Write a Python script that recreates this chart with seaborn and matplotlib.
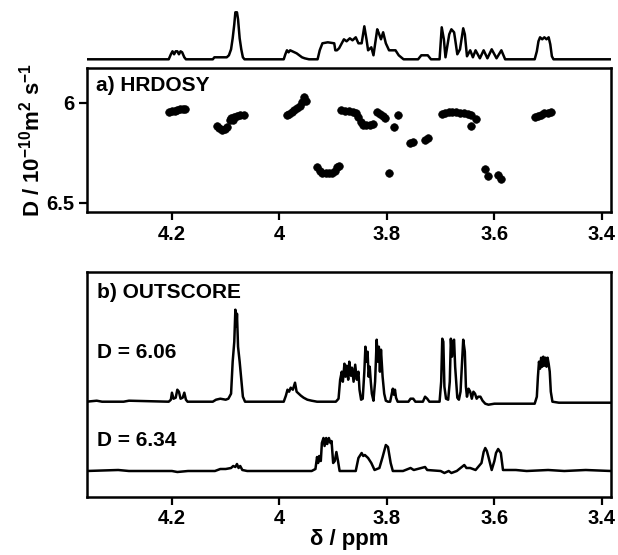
import numpy as np
import pandas as pd
import matplotlib
matplotlib.use("Agg")
import matplotlib.pyplot as plt
import seaborn as sns

# ---- data ----
# 1D projection on top of the DOSY (ppm, intensity)
proj_ppm = [4.359, 4.330, 4.206, 4.202, 4.199, 4.196, 4.193, 4.190, 4.187, 4.184, 4.181, 4.177, 4.174,
            4.124, 4.121, 4.098, 4.094, 4.090, 4.087, 4.084, 4.082, 4.079, 4.077, 4.074, 4.071, 4.068, 4.065,
            3.992, 3.989, 3.986, 3.983, 3.980, 3.976, 3.972, 3.968, 3.963, 3.958, 3.953, 3.945, 3.929,
            3.925, 3.920, 3.910, 3.898, 3.896, 3.893, 3.889, 3.880, 3.875, 3.869, 3.864, 3.858, 3.853,
            3.847, 3.842, 3.838, 3.835, 3.829, 3.825, 3.818, 3.815, 3.811, 3.807, 3.802, 3.796, 3.784,
            3.778, 3.769, 3.742, 3.736, 3.724, 3.718, 3.702, 3.698, 3.694, 3.691, 3.684, 3.680, 3.675,
            3.673, 3.669, 3.664, 3.658, 3.655, 3.651, 3.645, 3.640, 3.635, 3.627, 3.620, 3.613, 3.605,
            3.596, 3.587, 3.580, 3.525, 3.521, 3.518, 3.515, 3.511, 3.507, 3.503, 3.499, 3.496, 3.493,
            3.490, 3.383]
proj_int = [0, 0, 0, 5, 8, 5, 8, 8, 5, 8, 7, 2, 0,
            0, 2, 2, 4, 10, 21, 35, 47, 47, 40, 21, 10, 2, 0,
            0, 5, 9, 7, 9, 8, 7, 6, 4, 2, 1, 0, 0,
            9, 16, 17, 16, 9, 9, 11, 20, 18, 21, 19, 22, 16,
            16, 33, 20, 9, 12, 4, 30, 26, 20, 27, 16, 9, 9,
            4, 0, 0, 4, 4, 0, 0, 32, 20, 2, 25, 30, 27,
            20, 5, 10, 31, 25, 3, 9, 2, 9, 1, 9, 1, 10,
            1, 9, 0, 0, 8, 18, 22, 20, 22, 20, 22, 15, 3,
            0, 0]

# HRDOSY peaks (ppm, D / 1e-10 m2 s-1)
dosy_ppm = [4.205, 4.200, 4.195, 4.190, 4.185, 4.180, 4.175,
            4.117, 4.112, 4.107, 4.102, 4.098,
            4.092, 4.086, 4.091, 4.085, 4.079, 4.073, 4.066,
            3.986, 3.982, 3.977, 3.972, 3.967, 3.962, 3.958, 3.955, 3.950,
            3.885, 3.878, 3.871, 3.864, 3.858, 3.853, 3.849, 3.844, 3.838, 3.831, 3.825,
            3.818, 3.813, 3.808, 3.803,
            3.780, 3.787,
            3.757, 3.752, 3.729, 3.724,
            3.698, 3.692, 3.685, 3.678, 3.671, 3.664, 3.657, 3.650, 3.644,
            3.634, 3.643,
            3.525, 3.519, 3.513, 3.507, 3.500, 3.495,
            3.930, 3.925, 3.920, 3.914, 3.908, 3.902, 3.897, 3.892, 3.890,
            3.796,
            3.617, 3.612, 3.594, 3.588]
dosy_D = [6.045, 6.042, 6.038, 6.035, 6.032, 6.030, 6.028,
          6.115, 6.125, 6.133, 6.128, 6.118,
          6.085, 6.085, 6.075, 6.068, 6.065, 6.062, 6.058,
          6.060, 6.055, 6.045, 6.035, 6.025, 6.015, 5.995, 5.972, 5.990,
          6.036, 6.040, 6.042, 6.045, 6.052, 6.072, 6.095, 6.110, 6.112, 6.110, 6.103,
          6.045, 6.055, 6.065, 6.075,
          6.062, 6.122,
          6.198, 6.193, 6.185, 6.177,
          6.057, 6.052, 6.047, 6.043, 6.043, 6.048, 6.052, 6.056, 6.062,
          6.082, 6.113,
          6.068, 6.064, 6.058, 6.052, 6.048, 6.047,
          6.318, 6.338, 6.348, 6.352, 6.352, 6.348, 6.340, 6.320, 6.315,
          6.352,
          6.330, 6.365, 6.360, 6.378]

# OUTSCORE component D = 6.06
d606_ppm = [4.359, 4.340, 4.330, 4.290, 4.280, 4.206, 4.202, 4.200, 4.197, 4.193, 4.190, 4.187, 4.184,
            4.180, 4.177, 4.174, 4.171, 4.124, 4.118, 4.110, 4.100, 4.095, 4.090, 4.087, 4.084,
            4.082, 4.080, 4.079, 4.077, 4.074, 4.071, 4.068, 4.064, 3.992, 3.988, 3.985, 3.982,
            3.979, 3.975, 3.971, 3.968, 3.964, 3.960, 3.955, 3.948, 3.940, 3.930, 3.895, 3.890,
            3.887, 3.884, 3.882, 3.879, 3.877, 3.875, 3.872, 3.870, 3.867, 3.865, 3.862, 3.859,
            3.856, 3.853, 3.851, 3.848, 3.845, 3.842, 3.840, 3.838, 3.836, 3.834, 3.832, 3.830,
            3.828, 3.825, 3.822, 3.819, 3.817, 3.815, 3.813, 3.811, 3.808, 3.805, 3.802, 3.798,
            3.794, 3.791, 3.789, 3.787, 3.785, 3.783, 3.780, 3.760, 3.756, 3.751, 3.747, 3.733,
            3.729, 3.725, 3.721, 3.702, 3.699, 3.697, 3.695, 3.693, 3.690, 3.686, 3.683, 3.681,
            3.679, 3.677, 3.675, 3.673, 3.671, 3.669, 3.666, 3.663, 3.658, 3.655, 3.653, 3.651,
            3.648, 3.645, 3.642, 3.639, 3.636, 3.633, 3.630, 3.626, 3.622, 3.617, 3.611, 3.600,
            3.580, 3.560, 3.530, 3.525, 3.521, 3.519, 3.517, 3.515, 3.513, 3.511, 3.509, 3.507,
            3.505, 3.503, 3.501, 3.499, 3.497, 3.495, 3.492, 3.480, 3.450, 3.420, 3.383]
d606_int = [0, 1, 0, 0, 1, 0, 2, 9, 3, 4, 12, 10, 3,
            4, 9, 2, 0, 0, 2, 3, 2, 3, 8, 40, 60,
            92, 75, 88, 55, 40, 22, 5, 0, 0, 6, 12, 10,
            14, 12, 19, 10, 8, 6, 4, 2, 1, 0, 0, 3,
            22, 30, 20, 38, 25, 36, 22, 40, 26, 34, 20, 37,
            22, 30, 12, 2, 3, 30, 55, 40, 50, 25, 35, 20,
            8, 1, 20, 62, 40, 55, 30, 52, 25, 8, 1, 0,
            0, 8, 13, 7, 12, 4, 0, 0, 3, 3, 0, 0,
            5, 3, 0, 0, 20, 63, 60, 15, 3, 2, 20, 63,
            45, 60, 62, 35, 20, 4, 2, 10, 62, 50, 15, 5,
            13, 10, 3, 10, 8, 3, 5, 5, 1, -2, -3, -2,
            -2, -2, -2, -2, 5, 25, 40, 33, 44, 35, 45, 36,
            44, 35, 44, 38, 30, 10, 0, -1, -1, -1, -1]

# OUTSCORE component D = 6.34
d634_ppm = [4.359, 4.300, 4.280, 4.200, 4.190, 4.170, 4.120, 4.110, 4.100, 4.090, 4.086, 4.082,
            4.079, 4.076, 4.073, 4.069, 4.060, 3.940, 3.933, 3.930, 3.928, 3.926, 3.923, 3.921,
            3.918, 3.916, 3.913, 3.911, 3.908, 3.905, 3.903, 3.900, 3.897, 3.894, 3.891, 3.888,
            3.858, 3.853, 3.847, 3.844, 3.841, 3.835, 3.829, 3.823, 3.814, 3.808, 3.802, 3.798,
            3.793, 3.789, 3.770, 3.756, 3.750, 3.729, 3.725, 3.700, 3.693, 3.685, 3.680, 3.670,
            3.656, 3.652, 3.645, 3.635, 3.624, 3.620, 3.617, 3.614, 3.611, 3.605, 3.600, 3.597,
            3.593, 3.588, 3.584, 3.560, 3.540, 3.500, 3.470, 3.430, 3.383]
d634_int = [0, 1, 0, 0, -1, 0, 0, 2, 2, 3, 5, 4,
            7, 3, 5, 1, 0, 0, 2, 14, 8, 15, 10, 28,
            33, 25, 33, 27, 33, 28, 30, 8, 10, 19, 10, 0,
            0, 13, 18, 15, 16, 13, 8, 1, 3, 14, 26, 24,
            8, 0, 0, 3, 1, 4, 1, 0, -2, 0, -2, 0,
            6, 3, 3, 1, 8, 19, 23, 20, 14, 1, 10, 18,
            22, 18, 1, 1, 0, 1, 0, 1, 0]

x_ticks = [4.2, 4.0, 3.8, 3.6, 3.4]
x_ticklabels = ["4.2", "4", "3.8", "3.6", "3.4"]
y_ticks = [6.0, 6.5]
y_ticklabels = ["6", "6.5"]

# ---- style ----
sns.set_theme(style="ticks")
plt.rcParams['font.family'] = ['Liberation Sans', 'DejaVu Sans']
plt.rcParams['font.weight'] = 'bold'
plt.rcParams['text.color'] = 'black'
plt.rcParams['axes.labelcolor'] = 'black'
plt.rcParams['mathtext.fontset'] = 'custom'
plt.rcParams['mathtext.rm'] = 'Liberation Sans:bold'
plt.rcParams['mathtext.bf'] = 'Liberation Sans:bold'
plt.rcParams['mathtext.default'] = 'bf'

FS = 15
TFS = 14.5
XLIM = (4.359, 3.383)
LW = 1.8

fig = plt.figure(figsize=(6.18, 5.55), dpi=100)
W, H = 618, 555

def px_axes(left, top, right, bottom):
    return fig.add_axes([left / W, 1 - bottom / H, (right - left) / W, (bottom - top) / H])

def style_frame(ax):
    for s in ax.spines.values():
        s.set_linewidth(1.8)
        s.set_color('black')
    ax.tick_params(direction='out', length=6, width=1.6, colors='black', labelsize=TFS, pad=3)
    ax.set_xlim(*XLIM)
    ax.set_xticks(x_ticks)
    ax.set_xticklabels(x_ticklabels, fontweight='bold')

# projection
ax_p = px_axes(86.5, 8, 611, 64)
sns.lineplot(x=proj_ppm, y=proj_int, ax=ax_p, color='black', lw=LW, estimator=None, sort=False)
ax_p.set_xlim(*XLIM)
ax_p.set_ylim(-4.7, 51.3)
ax_p.axis('off')

# a) HRDOSY
ax_a = px_axes(86.5, 68, 611, 212)
dosy = pd.DataFrame({'ppm': dosy_ppm, 'D': dosy_D})
sns.scatterplot(data=dosy, x='ppm', y='D', ax=ax_a, color='black', s=30, edgecolor='black',
                linewidth=0.5)
style_frame(ax_a)
ax_a.set_ylim(6.545, 5.825)
ax_a.set_yticks(y_ticks)
ax_a.set_yticklabels(y_ticklabels, fontweight='bold')
ax_a.set_xlabel('')
ax_a.set_ylabel(r'D / 10$^{-10}$m$^{2}$ s$^{-1}$', fontsize=FS + 1, fontweight='bold', labelpad=1)
ax_a.text(0.018, 0.88, 'a) HRDOSY', transform=ax_a.transAxes, fontsize=FS, fontweight='bold',
          va='center', ha='left')

# b) OUTSCORE
ax_b = px_axes(86.5, 272, 611, 497)
off1, off2 = 95.3, 26.0
sns.lineplot(x=d606_ppm, y=np.array(d606_int) + off1, ax=ax_b, color='black', lw=LW,
             estimator=None, sort=False)
sns.lineplot(x=d634_ppm, y=np.array(d634_int) + off2, ax=ax_b, color='black', lw=LW,
             estimator=None, sort=False)
style_frame(ax_b)
ax_b.set_ylim(0, 225)
ax_b.set_yticks([])
ax_b.set_xlabel('δ / ppm', fontsize=FS + 1, fontweight='bold', labelpad=0)
ax_b.text(0.02, 0.907, 'b) OUTSCORE', transform=ax_b.transAxes, fontsize=FS, fontweight='bold',
          va='center', ha='left')
ax_b.text(0.02, 0.644, 'D = 6.06', transform=ax_b.transAxes, fontsize=FS, fontweight='bold',
          va='center', ha='left')
ax_b.text(0.02, 0.253, 'D = 6.34', transform=ax_b.transAxes, fontsize=FS, fontweight='bold',
          va='center', ha='left')

fig.savefig('out.png', dpi=100)
